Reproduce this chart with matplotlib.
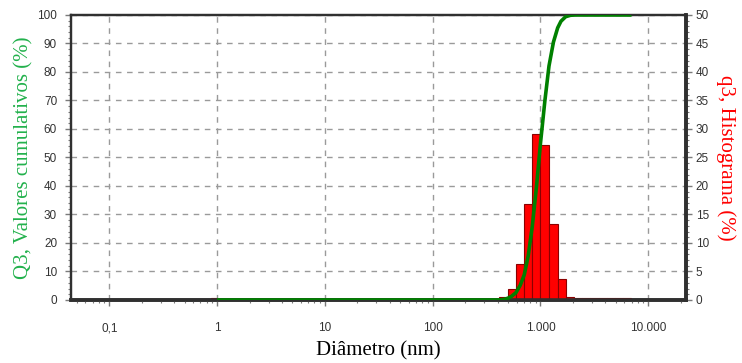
import numpy as np
import matplotlib
matplotlib.use('Agg')
import matplotlib.pyplot as plt
from matplotlib.ticker import FixedLocator, FixedFormatter, MultipleLocator, LogLocator, NullFormatter

# Histogram classes (nm) and q3 values (%)
bin_edges = [415, 497, 593, 708, 839, 1000, 1200, 1445, 1713, 2046]
q3_values = [0.6, 2.0, 6.3, 16.8, 29.2, 27.2, 13.4, 3.7, 0.6]
# thin tail bins
tail_edges = [2046, 2440, 2910, 3470, 4140, 4940, 5890, 6950]
tail_values = [0.35, 0.35, 0.35, 0.35, 0.35, 0.35, 0.35]
small_edges = [0.88, 1.0]
small_values = [0.35]

# Cumulative curve Q3 (%)
cum_d = [1, 100, 300, 415, 460, 497, 540, 593, 650, 708, 770, 839, 920, 1000,
         1100, 1200, 1320, 1445, 1550, 1713, 1900, 2100, 7000]
cum_q = [0, 0, 0, 0, 0.2, 0.6, 1.3, 2.6, 5.2, 8.9, 15.5, 25.7, 40, 54.9,
         70, 82.1, 90.5, 95.5, 97.8, 99.4, 99.9, 100, 100]

xticks = [0.1, 1, 10, 100, 1000, 10000]
xtick_labels = ['0,1', '1', '10', '100', '1.000', '10.000']

bg = '#c0c0c0'
frame = '#303030'
tickcol = '#7a7a7a'
labcol = '#333333'
gridcol = '#9a9a9a'

fig = plt.figure(figsize=(7.42, 3.63), dpi=100)
ax = fig.add_axes([0.0957, 0.1736, 0.8288, 0.7851])
ax2 = ax.twinx()

# histogram in the back axes
ax2.set_facecolor(bg)
def draw_bars(edges, vals):
    e = np.array(edges, dtype=float)
    ax2.bar(e[:-1], vals, width=np.diff(e), align='edge', color='#ff0000',
            edgecolor='#8b0000', linewidth=0.8, zorder=3)
draw_bars(bin_edges, q3_values)
draw_bars(tail_edges, tail_values)
draw_bars(small_edges, small_values)

ax2.set_ylim(0, 50)
ax2.yaxis.set_major_locator(MultipleLocator(5))
ax2.yaxis.set_minor_locator(MultipleLocator(1))
ax2.grid(True, which='major', axis='y', color=gridcol, linestyle=(0, (4, 4)), linewidth=1)
for xt in xticks:
    ax2.axvline(xt, color=gridcol, linestyle=(0, (4, 4)), linewidth=1, zorder=1)
ax2.set_axisbelow(True)

# cumulative on top
ax.set_zorder(ax2.get_zorder() + 1)
ax.patch.set_visible(False)
ax.plot(cum_d, cum_q, color='#008000', linewidth=2.6, solid_capstyle='butt', zorder=5)
ax.set_ylim(0, 100)
ax.yaxis.set_major_locator(MultipleLocator(10))
ax.yaxis.set_minor_locator(MultipleLocator(2))

ax.set_xscale('log')
ax.set_xlim(0.0441, 22400)
ax.xaxis.set_major_locator(FixedLocator(xticks))
ax.xaxis.set_major_formatter(FixedFormatter(xtick_labels))
ax.xaxis.set_minor_locator(LogLocator(base=10, subs=np.arange(2, 10)))
ax.xaxis.set_minor_formatter(NullFormatter())

for a in (ax, ax2):
    a.tick_params(which='major', length=4, width=1, color=tickcol, labelsize=8.5,
                  labelcolor=labcol)
    a.tick_params(which='minor', length=2.5, width=0.8, color=tickcol)
    for s in a.spines.values():
        s.set_color(frame)
        s.set_linewidth(1.6)
    a.spines['bottom'].set_linewidth(2.6)
    a.spines['right'].set_linewidth(2.6)

ax.tick_params(axis='x', which='major', pad=12)
ax.tick_params(axis='y', which='major', pad=6)
ax2.tick_params(axis='y', which='major', pad=3)

for t in ax.get_xticklabels() + ax.get_yticklabels() + ax2.get_yticklabels():
    t.set_family('Liberation Sans')

ax.set_xlabel('Diâmetro (nm)', family='Liberation Serif', fontsize=15, color='black', labelpad=5)
ax.set_ylabel('Q3, Valores cumulativos (%)', family='Liberation Serif', fontsize=15,
              color='#22b14c', labelpad=3)
ax2.set_ylabel('q3, Histograma (%)', family='Liberation Serif', fontsize=15,
               color='#ff0000', rotation=270, labelpad=19)

fig.savefig('out.png', dpi=100)
